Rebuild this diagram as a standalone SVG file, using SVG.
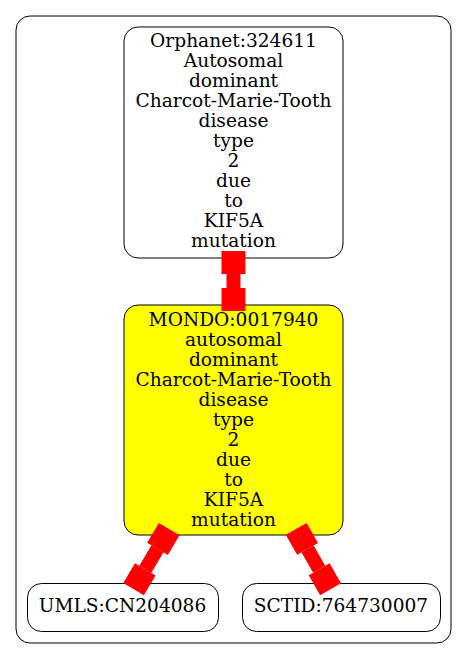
<svg xmlns="http://www.w3.org/2000/svg" width="467" height="659" viewBox="0 0 467 659">
<defs>
<style>
.cluster{fill:#ffffff;stroke:#000000;stroke-width:1}
.node{stroke:#000000;stroke-width:1}
.plain{fill:#ffffff}
.hl{fill:#ffff00}
text{font-family:"DejaVu Serif",serif;font-size:18.6px;fill:#000000;text-anchor:middle}
.edge{fill:none;stroke:#ff0000;stroke-width:14;stroke-linecap:butt}
</style>
<marker id="box" markerUnits="userSpaceOnUse" viewBox="0 -12 23 24" refX="0" refY="0" markerWidth="23" markerHeight="24" orient="auto-start-reverse" overflow="visible">
<rect x="0" y="-12" width="23" height="24" fill="#ff0000"/>
</marker>
</defs>
<rect width="467" height="659" fill="#ffffff"/>
<rect class="cluster" x="16" y="16" width="435" height="627" rx="14" ry="14"/>
<g id="orphanet">
<rect class="node plain" x="124" y="27" width="219" height="231" rx="14" ry="14"/>
<text x="233.5" y="47">Orphanet:324611</text>
<text x="233.5" y="67">Autosomal</text>
<text x="233.5" y="87">dominant</text>
<text x="233.5" y="107">Charcot-Marie-Tooth</text>
<text x="233.5" y="127">disease</text>
<text x="233.5" y="147">type</text>
<text x="233.5" y="167">2</text>
<text x="233.5" y="187">due</text>
<text x="233.5" y="207">to</text>
<text x="233.5" y="227">KIF5A</text>
<text x="233.5" y="247">mutation</text>
</g>
<g id="mondo">
<rect class="node hl" x="124" y="305" width="219" height="230" rx="14" ry="14"/>
<text x="233.5" y="325.5">MONDO:0017940</text>
<text x="233.5" y="345.5">autosomal</text>
<text x="233.5" y="365.5">dominant</text>
<text x="233.5" y="385.5">Charcot-Marie-Tooth</text>
<text x="233.5" y="405.5">disease</text>
<text x="233.5" y="425.5">type</text>
<text x="233.5" y="445.5">2</text>
<text x="233.5" y="465.5">due</text>
<text x="233.5" y="485.5">to</text>
<text x="233.5" y="505.5">KIF5A</text>
<text x="233.5" y="525.5">mutation</text>
</g>
<g id="umls">
<rect class="node plain" x="27.5" y="583.5" width="191" height="48" rx="14" ry="14"/>
<text x="122.5" y="612">UMLS:CN204086</text>
</g>
<g id="sctid">
<rect class="node plain" x="242.5" y="583.5" width="198" height="48" rx="14" ry="14"/>
<text x="341" y="612">SCTID:764730007</text>
</g>
<g id="edges">
<path class="edge" d="M233.5,274 L233.5,288" marker-start="url(#box)" marker-end="url(#box)"/>
<path class="edge" d="M157.5,548.8 L145.3,569.4" marker-start="url(#box)" marker-end="url(#box)"/>
<path class="edge" d="M307.6,548.9 L319.2,569.3" marker-start="url(#box)" marker-end="url(#box)"/>
</g>
</svg>
